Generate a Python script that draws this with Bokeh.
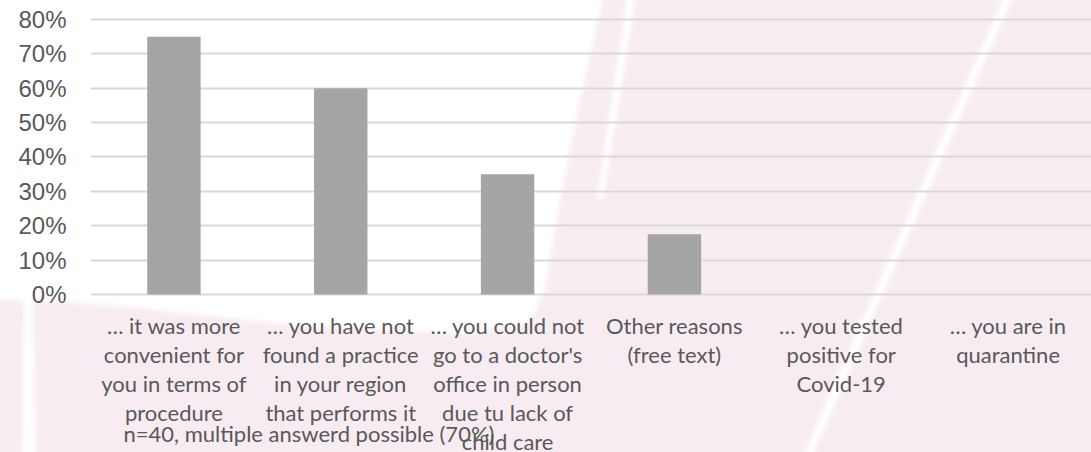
from urllib.parse import quote
from bokeh.plotting import figure
from bokeh.models import ColumnDataSource, FactorRange, Range1d, FixedTicker, NumeralTickFormatter
from bokeh.core.properties import value
from bokeh.embed import file_html
from bokeh.resources import INLINE

# ---- data ----
categories = [
    "\u2026 it was more\nconvenient for\nyou in terms of\nprocedure",
    "\u2026 you have not\nfound a practice\nin your region\nthat performs it",
    "\u2026 you could not\ngo to a doctor's\noffice in person\ndue tu lack of\nchild care",
    "Other reasons\n(free text)",
    "\u2026 you tested\npositive for\nCovid-19",
    "\u2026 you are in\nquarantine",
]
shares = [0.75, 0.60, 0.35, 0.175, 0.0, 0.0]
y_ticks = [0.0, 0.1, 0.2, 0.3, 0.4, 0.5, 0.6, 0.7, 0.8]
footnote = ["n=40, multiple answerd possible (70%)"]

W, H = 1091, 452
LABEL_Y = -0.052      # category labels, just below the 0% line (layout offset)
NOTE_X = 0.198        # footnote position in the category axis space
NOTE_Y = -0.405

# decorative background (page watermark), drawn in canvas pixels via CSS
bg_svg = (
    f"<svg xmlns='http://www.w3.org/2000/svg' width='{W}' height='{H}'>"
    "<defs><filter id='b' x='-10%' y='-10%' width='120%' height='120%'><feGaussianBlur stdDeviation='2.5'/></filter></defs>"
    "<g filter='url(#b)'>"
    "<path d='M605,-10 L1110,-10 L1110,470 L36,470 L33,300 L120,306 L300,326 L470,334 L530,322 L545,290 L560,200 L580,100 Z' fill='#F7ECF2'/>"
    "<path d='M-10,300 L24,300 L22,470 L-10,470 Z' fill='#F7ECF2'/>"
    "<path d='M628,-10 L637,-10 L603,200 L597,200 Z' fill='white'/>"
    "<path d='M1007,-10 L1016,-10 L880,300 L806,470 L797,470 L871,300 Z' fill='white'/>"
    "</g></svg>"
)
bg_uri = "data:image/svg+xml," + quote(bg_svg)

source = ColumnDataSource(data=dict(cat=categories, val=shares,
                                    ly=[LABEL_Y] * len(categories)))
note_src = ColumnDataSource(data=dict(x=[NOTE_X], y=[NOTE_Y], text=footnote))

p = figure(
    x_range=FactorRange(factors=categories),
    y_range=Range1d(-0.4596, 0.8058),
    width=W, height=H,
    output_backend="svg", toolbar_location=None,
    min_border_left=90, min_border_right=0, min_border_top=17, min_border_bottom=0,
)
p.styles = {"background-image": f'url("{bg_uri}")', "background-repeat": "no-repeat"}
p.background_fill_alpha = 0
p.border_fill_alpha = 0
p.outline_line_color = None

p.vbar(x="cat", top="val", width=0.32, source=source,
       fill_color="#A5A5A5", line_color=None)

# category labels under each bar
p.text(x="cat", y="ly", text="cat", source=source,
       text_align="center", text_baseline="top",
       text_font=value("Lato"), text_font_size="22px", text_color="#595959",
       text_line_height=1.07)

# footnote
p.text(x="x", y="y", text="text", source=note_src,
       text_align="left", text_baseline="alphabetic",
       text_font=value("Lato"), text_font_size="22px", text_color="#595959")

# grid
p.xgrid.grid_line_color = None
p.ygrid.grid_line_color = "#D9D9D9"
p.ygrid.grid_line_width = 2
p.ygrid.ticker = FixedTicker(ticks=y_ticks)

# y axis
p.yaxis.ticker = FixedTicker(ticks=y_ticks)
p.yaxis.formatter = NumeralTickFormatter(format="0%")
p.yaxis.axis_line_color = None
p.yaxis.major_tick_line_color = None
p.yaxis.minor_tick_line_color = None
p.yaxis.major_tick_out = 0
p.yaxis.major_label_standoff = 24
p.yaxis.major_label_text_font = "Liberation Sans"
p.yaxis.major_label_text_font_size = "24px"
p.yaxis.major_label_text_color = "#595959"

# x axis labels are drawn as text under the bars
p.xaxis.visible = False

open("out.html", "w").write(file_html(p, INLINE))
